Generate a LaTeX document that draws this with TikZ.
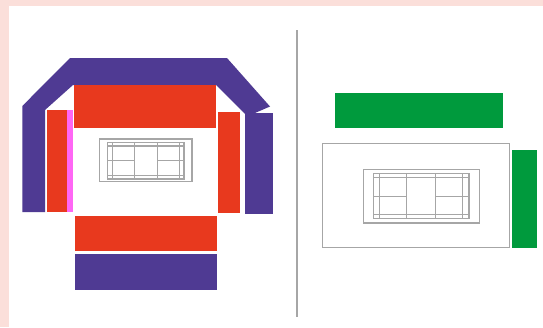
\documentclass[tikz,border=0pt]{standalone}
\usepackage{xcolor}
\definecolor{hallpink}{HTML}{FBDFDA}
\definecolor{standpurple}{HTML}{4F3A93}
\definecolor{standred}{HTML}{E8391E}
\definecolor{standpink}{HTML}{FF66F5}
\definecolor{standgreen}{HTML}{009A3D}
\definecolor{courtgray}{HTML}{A6A6A6}
\tikzset{
  purpleblock/.style = {fill=standpurple},
  redblock/.style    = {fill=standred},
  pinkblock/.style   = {fill=standpink},
  greenblock/.style  = {fill=standgreen},
  courtline/.style   = {draw=courtgray, line width=1.1pt},
  thinline/.style    = {draw=courtgray, line width=0.9pt},
}
% one court, drawn in a unit box
\newcommand{\courtmarks}[4]{
  \begin{scope}[shift={(#1,#2)}, x=#3pt, y=-#4pt]
    \draw[courtline] (0,0) rectangle (1,1);
    \draw[courtline] (0,.09)--(1,.09); \draw[courtline] (0,.91)--(1,.91);
    \draw[courtline] (.068,0)--(.068,1); \draw[courtline] (.348,0)--(.348,1);
    \draw[courtline] (.648,0)--(.648,1); \draw[courtline] (.936,0)--(.936,1);
    \draw[thinline] (0,.5)--(.348,.5); \draw[thinline] (.648,.5)--(1,.5);
  \end{scope}
}
\begin{document}
\begin{tikzpicture}[x=1pt, y=-1pt]
  \useasboundingbox (0,0) rectangle (543,327);
  \fill[hallpink] (0,0) rectangle (543,327);
  \fill[white] (9,6) rectangle (543,327);
  % left hall
  \fill[purpleblock] (22.3,106) -- (70,58) -- (227,58) -- (270,106.5) -- (255,113)
    -- (245,114) -- (216,85) -- (73,85) -- (45,110) -- (45,212) -- (22.3,212) -- cycle;
  \fill[purpleblock] (245,113) rectangle (273,214);
  \fill[purpleblock] (75,254.3) rectangle (217,290);
  \fill[redblock] (73.7,85) rectangle (215.7,128);
  \fill[redblock] (47,110) rectangle (66.7,212);
  \fill[pinkblock] (66.7,110) rectangle (73,212);
  \fill[redblock] (218,112) rectangle (240.3,213);
  \fill[redblock] (75,215.7) rectangle (217,251);
  \draw[courtline] (99.7,139) rectangle (192,181.7);
  \courtmarks{107.7}{142.7}{76.3}{36.3}
  % divider
  \draw[courtgray, line width=1.8pt] (297,30) -- (297,317);
  % right hall
  \fill[greenblock] (335.3,93) rectangle (503.3,127.7);
  \fill[greenblock] (512.3,150) rectangle (537,248);
  \draw[courtline] (322.7,143.7) rectangle (509.3,247.3);
  \draw[courtline] (363.3,169.3) rectangle (479.3,223);
  \courtmarks{373.3}{173.7}{95.7}{45}
\end{tikzpicture}
\end{document}
